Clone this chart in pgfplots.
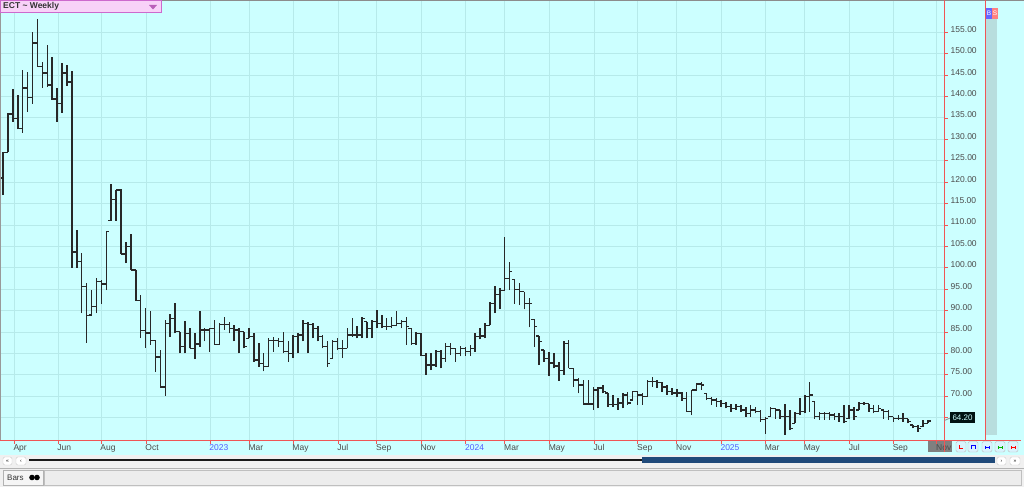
\documentclass[border=0pt]{standalone}
\usepackage{fontspec}
\setmainfont{Liberation Sans}
\usepackage{pgfplots}
\usepackage{pgfplotstable}
\pgfplotsset{compat=1.18}
\definecolor{bgc}{RGB}{204,255,255}
\definecolor{gridc}{RGB}{182,234,234}
\definecolor{barc}{RGB}{40,40,40}
\definecolor{axred}{RGB}{240,85,85}
\definecolor{lblc}{RGB}{75,75,75}
\definecolor{yrblue}{RGB}{80,95,255}
\definecolor{stripc}{RGB}{184,222,222}
\definecolor{panelc}{RGB}{240,240,240}
\definecolor{pinkf}{RGB}{248,210,248}
\definecolor{pinkd}{RGB}{205,105,205}
\definecolor{scrollblue}{RGB}{32,74,122}
\pgfdeclareplotmark{rtick}{\pgfpathmoveto{\pgfqpoint{0pt}{0pt}}\pgfpathlineto{\pgfqpoint{2.8pt}{0pt}}\pgfusepathqstroke}
\pgfdeclareplotmark{ltick}{\pgfpathmoveto{\pgfqpoint{0pt}{0pt}}\pgfpathlineto{\pgfqpoint{-2.8pt}{0pt}}\pgfusepathqstroke}
\pgfplotstableread{
i o h l c
0 121.0 127.1 117.0 126.9
1 127.0 136.2 127.0 135.9
2 135.9 141.8 134.1 134.8
3 134.8 140.4 132.4 132.6
4 132.6 146.2 131.5 142.0
5 142.0 145.7 136.4 139.7
6 139.7 155.1 138.3 152.5
7 152.5 158.1 146.9 147.0
8 147.0 148.1 142.0 145.5
9 145.5 152.0 142.2 142.7
10 142.7 149.2 139.2 139.4
11 139.4 142.0 134.1 138.3
12 138.3 147.8 136.2 145.5
13 145.5 147.4 142.5 143.4
14 143.4 146.0 100.0 103.7
15 103.7 108.8 100.0 101.5
16 101.5 103.5 89.4 95.6
17 95.6 96.5 82.5 88.8
18 89.0 94.8 89.0 90.9
19 90.9 97.6 89.4 96.8
20 96.8 97.2 91.5 96.2
21 96.2 108.6 94.8 108.4
22 111.0 119.6 111.0 116.0
23 116.0 118.2 111.0 118.2
24 118.2 118.4 103.2 103.2
25 103.2 106.1 101.1 104.9
26 104.9 107.9 99.5 99.5
27 99.5 99.5 92.3 92.3
28 92.3 93.6 83.6 85.3
29 85.3 90.6 81.3 84.8
30 84.8 89.8 82.0 83.1
31 83.1 83.1 75.7 79.2
32 79.2 80.8 72.2 72.2
33 72.2 87.8 70.1 87.0
34 87.0 89.2 83.9 88.2
35 88.2 91.7 84.7 85.1
36 85.1 85.1 80.0 81.6
37 81.6 87.6 80.0 84.7
38 84.7 85.9 81.2 81.2
39 81.2 84.8 78.7 82.2
40 82.2 89.8 81.6 85.5
41 85.5 85.9 82.8 85.5
42 85.5 85.9 80.3 85.9
43 85.9 87.8 82.0 82.1
44 82.1 87.0 82.0 86.8
45 86.8 88.6 85.5 86.8
46 86.8 87.4 84.7 85.9
47 85.9 86.6 82.8 85.5
48 85.5 85.9 80.0 85.1
49 85.1 85.1 81.2 81.6
50 83.5 85.9 83.5 83.9
51 83.9 84.7 78.1 78.5
52 78.5 82.4 76.9 77.7
53 77.7 80.0 75.8 76.9
54 76.9 83.5 76.9 83.1
55 83.1 83.9 80.4 83.1
56 83.1 83.7 81.6 82.8
57 82.8 85.1 80.0 80.4
58 80.4 82.8 78.1 80.0
59 80.0 84.3 78.9 83.9
60 83.9 84.7 80.0 84.3
61 84.3 87.8 82.8 87.0
62 87.0 87.4 80.0 86.8
63 86.8 87.0 83.5 85.9
64 85.9 86.3 82.8 83.9
65 83.9 84.3 81.2 81.6
66 81.6 82.8 76.9 77.7
67 78.9 83.1 78.9 82.8
68 82.8 83.5 80.8 81.2
69 81.2 83.1 78.9 81.2
70 81.2 85.9 81.2 84.3
71 84.3 88.2 83.9 84.3
72 84.3 86.3 83.5 84.3
73 84.3 88.6 83.5 88.2
74 87.4 87.4 83.5 85.9
75 85.9 87.8 83.5 87.4
76 87.4 90.2 85.9 87.0
77 87.0 89.0 85.9 86.3
78 86.3 88.2 85.5 86.3
79 86.3 88.6 85.9 86.6
80 86.6 89.8 86.3 87.0
81 87.0 87.8 85.9 87.4
82 87.4 88.6 82.0 86.3
83 85.9 85.9 82.0 82.4
84 82.4 85.1 82.0 84.7
85 84.7 84.7 79.3 79.6
86 79.6 80.0 75.0 77.3
87 77.3 80.0 76.1 77.3
88 77.3 80.8 76.9 80.4
89 80.4 80.8 76.5 78.9
90 78.9 82.4 78.1 81.6
91 81.6 82.4 79.6 81.2
92 81.2 81.2 78.1 80.0
93 80.0 81.7 79.3 81.2
94 81.2 81.6 79.4 80.4
95 80.4 82.0 79.4 81.2
96 81.2 84.7 80.4 83.9
97 83.9 85.9 83.3 84.1
98 84.1 87.0 83.5 86.6
99 86.6 91.9 86.6 91.6
100 91.6 95.8 89.4 93.7
101 93.7 95.2 90.3 94.7
102 94.7 107.1 94.7 97.5
103 97.5 101.4 94.8 99.1
104 97.3 97.3 91.6 95.0
105 95.0 96.4 91.3 94.4
106 94.4 94.4 90.3 91.6
107 91.6 92.9 86.1 91.7
108 88.0 88.0 81.6 86.3
109 84.1 84.1 77.3 82.8
110 80.8 80.8 78.1 78.9
111 78.9 80.4 74.7 77.8
112 77.8 80.0 76.5 77.1
113 77.1 78.1 73.6 76.1
114 76.1 82.8 75.0 82.4
115 82.4 83.1 76.5 76.5
116 76.5 76.5 72.2 73.8
117 73.8 74.2 70.7 72.6
118 72.6 73.8 68.0 68.2
119 68.2 73.8 68.0 68.2
120 68.2 72.1 66.8 71.5
121 71.5 72.2 67.2 71.9
122 71.9 72.6 70.7 71.1
123 70.8 70.8 67.6 68.0
124 68.0 70.3 67.6 68.0
125 68.0 69.5 66.8 68.4
126 68.4 70.7 67.2 70.3
127 70.3 71.1 68.0 68.4
128 69.1 71.3 69.1 71.1
129 71.1 71.1 68.0 70.3
130 70.3 70.7 68.0 69.9
131 69.9 73.8 69.9 73.4
132 73.4 74.6 72.2 73.4
133 73.4 73.8 71.9 73.2
134 73.2 73.4 71.1 72.2
135 72.2 72.6 70.3 71.1
136 71.1 71.9 70.3 70.8
137 70.8 71.6 69.9 70.8
138 70.8 71.1 69.0 69.5
139 69.5 71.1 66.4 66.4
140 66.4 71.5 65.6 71.5
141 71.5 73.2 71.5 72.9
142 72.9 73.4 71.5 72.6
143 70.7 70.7 69.1 69.5
144 69.5 69.9 68.0 69.1
145 69.1 69.5 67.6 68.7
146 68.7 69.1 67.6 68.3
147 68.3 68.7 67.2 67.6
148 67.6 68.3 66.4 67.2
149 67.2 68.3 66.8 67.6
150 67.6 68.0 66.4 66.8
151 66.8 67.6 65.2 66.0
152 66.0 68.0 65.2 66.8
153 66.8 67.6 66.0 66.4
154 66.4 66.8 64.1 64.5
155 64.5 65.2 61.3 64.8
156 65.2 67.6 65.2 67.2
157 67.2 67.2 64.8 66.8
158 66.8 66.8 64.8 65.2
159 65.2 68.3 61.0 65.2
160 65.2 66.8 62.1 62.5
161 63.7 66.4 63.7 66.0
162 66.0 69.5 65.6 66.4
163 66.4 70.3 66.0 69.9
164 69.9 73.4 66.4 70.3
165 68.7 68.7 64.8 65.2
166 65.2 66.4 64.5 66.0
167 66.0 66.4 64.5 66.0
168 66.0 66.4 64.5 65.6
169 65.6 66.0 64.5 65.2
170 65.2 66.0 64.1 65.2
171 65.2 68.0 63.7 64.1
172 64.8 68.0 64.8 66.8
173 66.8 67.6 64.5 65.2
174 66.8 68.7 66.8 68.3
175 68.3 68.7 68.0 68.3
176 68.3 68.3 66.4 67.2
177 67.2 68.0 66.0 66.4
178 66.4 68.0 66.4 67.2
179 66.8 66.8 64.8 66.4
180 66.4 66.8 64.5 65.2
181 65.2 65.2 64.1 64.8
182 64.8 65.6 64.5 64.8
183 64.8 66.0 64.1 64.8
184 64.8 64.8 63.7 64.1
185 63.3 63.3 62.5 62.9
186 62.9 63.3 61.7 62.5
187 62.9 64.5 62.9 63.7
188 63.7 64.5 63.7 64.2
}\ohlc
\begin{document}
\begin{tikzpicture}[x=1pt,y=1pt]
\useasboundingbox (0,0) rectangle (1024,487);
% backgrounds
\fill[bgc] (0,32) rectangle (1024,487);
\fill[panelc] (0,0) rectangle (1024,32);
\fill[stripc] (986,52) rectangle (997,475);
% current month box
\fill[black!50] (928,35) rectangle (952,47);
\begin{axis}[
  at={(1pt,47pt)}, anchor=south west,
  width=943pt, height=440pt, scale only axis,
  xmin=-0.407, xmax=191.30, ymin=59.79, ymax=162.54,
  axis line style={draw=none},
  tick align=outside, major tick length=3.5pt,
  tick style={axred, line width=0.8pt},
  xtick pos=bottom, ytick pos=right, yticklabel pos=right,
  ytick={65,70,75,80,85,90,95,100,105,110,115,120,125,130,135,140,145,150,155},
  yticklabels={,70.00,75.00,80.00,85.00,90.00,95.00,100.00,105.00,110.00,115.00,120.00,125.00,130.00,135.00,140.00,145.00,150.00,155.00},
  xtick={2.24,11.18,19.92,29.07,42.08,50.01,58.95,68.10,75.97,84.98,94.06,101.99,111.06,120.15,129.03,136.96,145.97,154.97,162.90,172.05,180.99,189.81},
  xticklabels={Apr,Jun,Aug,Oct,\textcolor{yrblue}{2023},Mar,May,Jul,Sep,Nov,\textcolor{yrblue}{2024},Mar,May,Jul,Sep,Nov,\textcolor{yrblue}{2025},Mar,May,Jul,Sep,Nov},
  grid=major, major grid style={gridc, line width=0.9pt},
  tick label style={font=\fontsize{8.5}{10}\selectfont, text=lblc},
  yticklabel style={anchor=west, inner sep=0pt, xshift=3pt, yshift=3pt},
  xticklabel style={anchor=north west, inner sep=0pt, xshift=-0.7pt, yshift=-0.5pt},
]
\addplot[draw=none, mark=none, forget plot,
  error bars/.cd, y dir=plus, y explicit, error mark=none,
  error bar style={draw=barc, line width=1.5pt}]
  table[x=i, y=l, y error plus expr=\thisrow{h}-\thisrow{l}] {\ohlc};
\addplot[only marks, mark=rtick, mark options={draw=barc, line width=1.3pt}, forget plot]
  table[x=i, y=c] {\ohlc};
\addplot[only marks, mark=ltick, mark options={draw=barc, line width=1.3pt}, forget plot]
  table[x=i, y=o] {\ohlc};
\end{axis}
% frame lines
\draw[black!40, line width=1pt] (0.5,47) -- (0.5,487);
\draw[black!45, line width=1pt] (0,486.5) -- (1024,486.5);
\draw[axred, line width=1pt] (0,47) -- (1021,47);
\draw[axred, line width=1pt] (944,487) -- (944,35);
\draw[axred, line width=1pt] (985,487) -- (985,47);
% last price label
\draw[black!45, line width=0.8pt] (944.5,66.5) -- (950,69);
\fill[black!85!teal] (950,64) rectangle (975,75);
\node[anchor=center, inner sep=0pt, text=bgc, font=\fontsize{8}{9}\selectfont] at (962.5,69.5) {64.20};
% title box
\filldraw[fill=pinkf, draw=pinkd, line width=1pt] (0.5,474) rectangle (161,486.5);
\node[anchor=west, inner sep=0pt, font=\bfseries\fontsize{8.5}{9}\selectfont, text=black!80] at (3,480.2) {ECT \textasciitilde\ Weekly};
\fill[pinkd!90!black] (149,482) -- (157,482) -- (153,477.5) -- cycle;
% B S boxes
\fill[blue!60!white] (986,468) rectangle (992,479);
\fill[red!50!white] (992,468) rectangle (998,479);
\node[text=white, inner sep=0pt, font=\fontsize{6.5}{7}\selectfont] at (989,473.5) {B};
\node[text=white, inner sep=0pt, font=\fontsize{6.5}{7}\selectfont] at (995,473.5) {S};
% small buttons bottom right
\foreach \xa in {956,968,982,995,1008}{
  \filldraw[fill=white!85!cyan, draw=black!25, rounded corners=1.5pt] (\xa,35) rectangle (\xa+10,45.5);
}
\draw[red, line width=0.9pt] (959,42) -- (959,39) -- (963,39);
\draw[blue, line width=0.9pt] (971,38) -- (971,42) -- (975,42) -- (975,38);
\draw[blue, line width=0.9pt] (985,38.5) -- (985,41.5) (985,40) -- (989,40) (989,38.5) -- (989,41.5);
\draw[green!70!black, line width=0.9pt] (998,38.5) -- (998,41.5) (998,40) -- (1002,40) (1002,38.5) -- (1002,41.5);
\draw[red, line width=0.9pt] (1011,38.5) -- (1011,41.5) (1011,40) -- (1015,40) (1015,38.5) -- (1015,41.5);
% scroll row
\filldraw[fill=white, draw=black!20, rounded corners=1.5pt] (3,22) rectangle (12,30);
\filldraw[fill=white, draw=black!20, rounded corners=1.5pt] (16,22) rectangle (26,30);
\node[inner sep=0pt, font=\fontsize{5}{5}\selectfont] at (7.5,26) {\guillemotleft};
\node[inner sep=0pt, font=\fontsize{5}{5}\selectfont] at (21,26) {\guilsinglleft};
\fill[black!90] (29,25.8) rectangle (645,28.2);
\fill[scrollblue] (642,24) rectangle (995,30);
\filldraw[fill=white, draw=black!20, rounded corners=1.5pt] (997,22) rectangle (1006,30);
\filldraw[fill=white, draw=black!20, rounded corners=1.5pt] (1010,22) rectangle (1020,30);
\node[inner sep=0pt, font=\fontsize{5}{5}\selectfont] at (1001.5,26) {\guilsinglright};
\node[inner sep=0pt, font=\fontsize{5}{5}\selectfont] at (1015,26) {\guillemotright};
% tab row
\draw[black!30, line width=0.8pt] (0,19) -- (1024,19);
\filldraw[fill=black!7, draw=black!25] (44,2) rectangle (1021,17);
\filldraw[fill=black!4, draw=black!30] (3,2) rectangle (43,17);
\node[anchor=west, inner sep=0pt, text=black!80, font=\fontsize{8}{9}\selectfont] at (7,9.5) {Bars};
\fill[black] (32,9.5) circle (2.8);
\fill[black] (37,9.5) circle (2.8);
\end{tikzpicture}
\end{document}
